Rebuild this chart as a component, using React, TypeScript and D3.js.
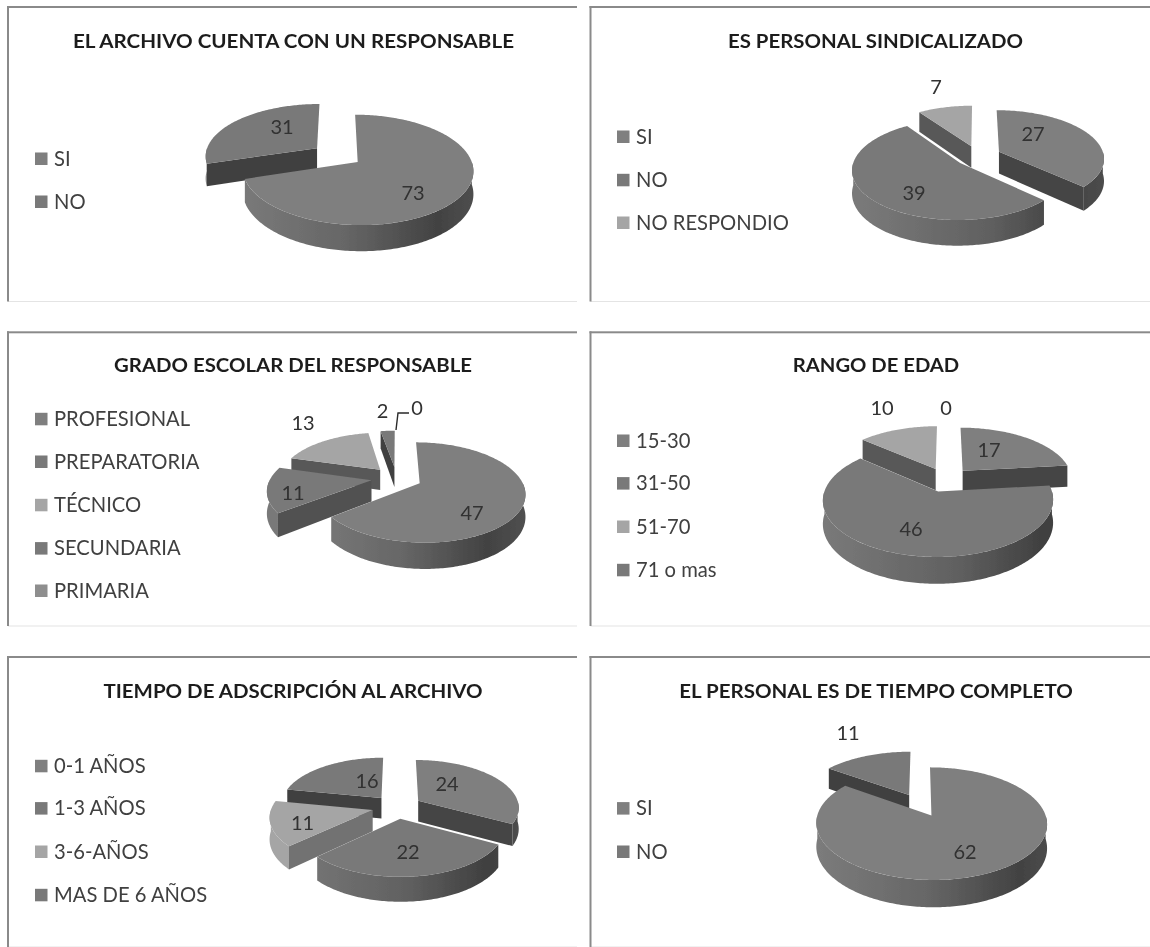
import React from "react";
import * as d3 from "d3";

// ---- data ----
const responsableCategories = ["SI", "NO"];
const responsableValues = [73, 31];
const sindicalizadoCategories = ["SI", "NO", "NO RESPONDIO"];
const sindicalizadoValues = [27, 39, 7];
const gradoCategories = ["PROFESIONAL", "PREPARATORIA", "TÉCNICO", "SECUNDARIA", "PRIMARIA"];
const gradoValues = [47, 11, 13, 2, 0];
const edadCategories = ["15-30", "31-50", "51-70", "71 o mas"];
const edadValues = [17, 46, 10, 0];
const tiempoCategories = ["0-1 AÑOS", "1-3 AÑOS", "3-6-AÑOS", "MAS DE 6 AÑOS"];
const tiempoValues = [24, 22, 11, 16];
const completoCategories = ["SI", "NO"];
const completoValues = [62, 11];

// ---- palette by series position ----
const palette = ["#7f7f7f", "#797979", "#a5a5a5", "#797979", "#8e8e8e"];

// ---- layout of the six panels ----
type Panel = {
  title: string; titleX: number; titleY: number; titleW: number;
  categories: string[]; values: number[];
  frame: [number, number, number, number]; // left, top, right, bottom
  legendX: number; legendYs: number[];
  cx: number; cy: number; rx: number; ry: number; p: number; depth: number; explode: number;
  labels: [string, number, number][];
  leader?: [number, number][];
};

const panels: Panel[] = [
  {
    title: "EL ARCHIVO CUENTA CON UN RESPONSABLE", titleX: 293.5, titleY: 41.7, titleW: 441,
    categories: responsableCategories, values: responsableValues,
    frame: [8, 7, 577, 301.5], legendX: 35, legendYs: [158.7, 201.7],
    cx: 337, cy: 155, rx: 112, ry: 52.1, p: 0.139, depth: 22, explode: 0.225,
    labels: [["31", 282, 127], ["73", 413, 192.7]],
  },
  {
    title: "ES PERSONAL SINDICALIZADO", titleX: 875.5, titleY: 41.7, titleW: 295,
    categories: sindicalizadoCategories, values: sindicalizadoValues,
    frame: [590.5, 7, 1150, 301.5], legendX: 617, legendYs: [136.7, 180, 222.7],
    cx: 978, cy: 156, rx: 105, ry: 47.9, p: 0.126, depth: 22, explode: 0.22,
    labels: [["7", 936, 87], ["27", 1033, 134], ["39", 914, 192.7]],
  },
  {
    title: "GRADO ESCOLAR DEL RESPONSABLE", titleX: 293, titleY: 365.7, titleW: 358,
    categories: gradoCategories, values: gradoValues,
    frame: [8, 332.3, 577, 626], legendX: 35, legendYs: [419, 461.7, 505, 548.3, 590.7],
    cx: 396.5, cy: 478, rx: 101, ry: 46.5, p: 0.182, depth: 21, explode: 0.25,
    labels: [["47", 472, 513], ["11", 293, 493], ["13", 303, 423], ["2", 382.5, 411], ["0", 417, 408]],
    leader: [[396, 430], [398, 413], [409, 413]],
  },
  {
    title: "RANGO DE EDAD", titleX: 876, titleY: 365.7, titleW: 166.5,
    categories: edadCategories, values: edadValues,
    frame: [590.5, 332.3, 1150, 626], legendX: 617, legendYs: [440.7, 483.3, 526.7, 570],
    cx: 946, cy: 479.5, rx: 110, ry: 51.9, p: 0.1485, depth: 22, explode: 0.232,
    labels: [["17", 989, 450], ["46", 911, 529], ["10", 882, 407.7], ["0", 946, 408]],
  },
  {
    title: "TIEMPO DE ADSCRIPCIÓN AL ARCHIVO", titleX: 293, titleY: 691.7, titleW: 379,
    categories: tiempoCategories, values: tiempoValues,
    frame: [8, 657, 577, 947], legendX: 35, legendYs: [766, 808.3, 851.7, 895],
    cx: 397, cy: 806.8, rx: 101, ry: 47.4, p: 0.126, depth: 21, explode: 0.248,
    labels: [["24", 447, 784], ["22", 408, 851.7], ["11", 302.5, 822.7], ["16", 367, 780.7]],
  },
  {
    title: "EL PERSONAL ES DE TIEMPO COMPLETO", titleX: 876, titleY: 691.7, titleW: 393.5,
    categories: completoCategories, values: completoValues,
    frame: [590.5, 657, 1150, 947], legendX: 617, legendYs: [808.3, 851.7],
    cx: 920, cy: 805, rx: 111, ry: 52.1, p: 0.141, depth: 22.7, explode: 0.22,
    labels: [["11", 848, 732.7], ["62", 965, 851.7]],
  },
];

const FONT = "Lato, 'Open Sans', sans-serif";
const shade = (c: string, f: number) => {
  const r = d3.rgb(c);
  return d3.rgb(r.r * f, r.g * f, r.b * f).formatHex();
};

const Pie3D = ({ panel, idx }: { panel: Panel; idx: number }) => {
  const { cx, cy, rx, ry, p, depth, explode } = panel;
  const arcs = d3.pie<number>().sort(null)(panel.values);
  const project = (u: number, v: number, d = 0): [number, number] => {
    const w = 1 - p * v;
    return [cx + (rx * u) / w, cy + (ry * v + d) / w];
  };
  const line = d3.line();
  const area = d3
    .area<[number, number]>()
    .x((q) => project(q[0], q[1])[0])
    .y0((q) => project(q[0], q[1])[1])
    .y1((q) => project(q[0], q[1], depth)[1]);

  const slices = arcs
    .map((a, i) => {
      const mid = (a.startAngle + a.endAngle) / 2;
      const ox = explode * Math.sin(mid);
      const oy = -explode * Math.cos(mid);
      return { a, i, mid, ox, oy };
    })
    .filter((s) => s.a.value > 0)
    .sort((m, n) => m.oy - n.oy);

  const rim = (ox: number, oy: number, t0: number, t1: number): [number, number][] => {
    const n = Math.max(2, Math.ceil(((t1 - t0) * 180) / Math.PI));
    return d3.range(n + 1).map((k) => {
      const t = t0 + ((t1 - t0) * k) / n;
      return [ox + Math.sin(t), oy - Math.cos(t)] as [number, number];
    });
  };

  return (
    <g>
      <defs>
        {slices.map((s) => {
          const base = palette[s.i % palette.length];
          return (
            <linearGradient key={s.i} id={`wall-${idx}-${s.i}`} gradientUnits="userSpaceOnUse"
              x1={cx - rx * 1.1} x2={cx + rx * 1.25} y1={0} y2={0}>
              <stop offset="0" stopColor={shade(base, 1.0)} />
              <stop offset="0.5" stopColor={shade(base, 0.8)} />
              <stop offset="0.85" stopColor={shade(base, 0.52)} />
              <stop offset="1" stopColor={shade(base, 0.62)} />
            </linearGradient>
          );
        })}
      </defs>
      {slices.map((s) => {
        const base = palette[s.i % palette.length];
        const { startAngle: t0, endAngle: t1 } = s.a;
        const outline = rim(s.ox, s.oy, t0, t1);
        const apex: [number, number] = [s.ox, s.oy];
        const topPts = [apex, ...outline].map((q) => project(q[0], q[1]));
        const lo = Math.max(t0, Math.PI / 2);
        const hi = Math.min(t1, (3 * Math.PI) / 2);
        const cuts = [
          { t: t0, nx: -Math.cos(t0), ny: -Math.sin(t0), q: outline[0] },
          { t: t1, nx: Math.cos(t1), ny: Math.sin(t1), q: outline[outline.length - 1] },
        ].filter((c) => c.ny > 0.02);
        return (
          <g key={s.i}>
            {hi > lo && (
              <path d={area(rim(s.ox, s.oy, lo, hi)) || ""} fill={`url(#wall-${idx}-${s.i})`} />
            )}
            {cuts.map((c, k) => (
              <path key={k}
                d={(line([
                  project(apex[0], apex[1]),
                  project(c.q[0], c.q[1]),
                  project(c.q[0], c.q[1], depth),
                  project(apex[0], apex[1], depth),
                ]) || "") + "Z"}
                fill={shade(base, 0.54 + 0.4 * Math.max(0, c.nx - 0.3))}
              />
            ))}
            <path d={(line(topPts) || "") + "Z"} fill={base} />
          </g>
        );
      })}
    </g>
  );
};

const PanelView = ({ panel, idx }: { panel: Panel; idx: number }) => {
  const [l, t, r, b] = panel.frame;
  return (
    <g>
      <rect x={l} y={b - 0.5} width={r - l} height={1} fill="#e4e4e4" />
      <rect x={l - 1} y={t - 1} width={r - l + 1} height={2} fill="#8a8a8a" />
      <rect x={l - 1} y={t - 1} width={2} height={b - t + 1} fill="#8a8a8a" />
      <text x={panel.titleX} y={panel.titleY + 6.5} textAnchor="middle" fontFamily={FONT} fontWeight={700}
        fontSize={18} fill="#1f1f1f" textLength={panel.titleW} lengthAdjust="spacingAndGlyphs">
        {panel.title}
      </text>
      {panel.categories.map((c, i) => (
        <g key={c}>
          <rect x={panel.legendX} y={panel.legendYs[i] - 6.2} width={12.5} height={12.5} fill={palette[i % palette.length]} />
          <text x={panel.legendX + 19} y={panel.legendYs[i] + 7} fontFamily={FONT} fontSize={20.2} fill="#404040">{c}</text>
        </g>
      ))}
      <Pie3D panel={panel} idx={idx} />
      {panel.leader && (
        <path d={d3.line()(panel.leader) || ""} fill="none" stroke="#2a2a2a" strokeWidth={1.4} />
      )}
      {panel.labels.map(([s, x, y], i) => (
        <text key={i} x={x} y={y + 7} textAnchor="middle" fontFamily={FONT} fontSize={20} fill="#303030">{s}</text>
      ))}
    </g>
  );
};

export default function App() {
  return (
    <svg width={1150} height={947} viewBox="0 0 1150 947"
      style={{ position: "absolute", left: 0, top: 0, display: "block", background: "#fff" }}>
      <defs>
        <filter id="soft" x="0" y="0" width="100%" height="100%">
          <feGaussianBlur stdDeviation="0.45" />
        </filter>
      </defs>
      <rect width={1150} height={947} fill="#fff" />
      <g filter="url(#soft)">
        {panels.map((p, i) => <PanelView key={i} panel={p} idx={i} />)}
      </g>
    </svg>
  );
}
